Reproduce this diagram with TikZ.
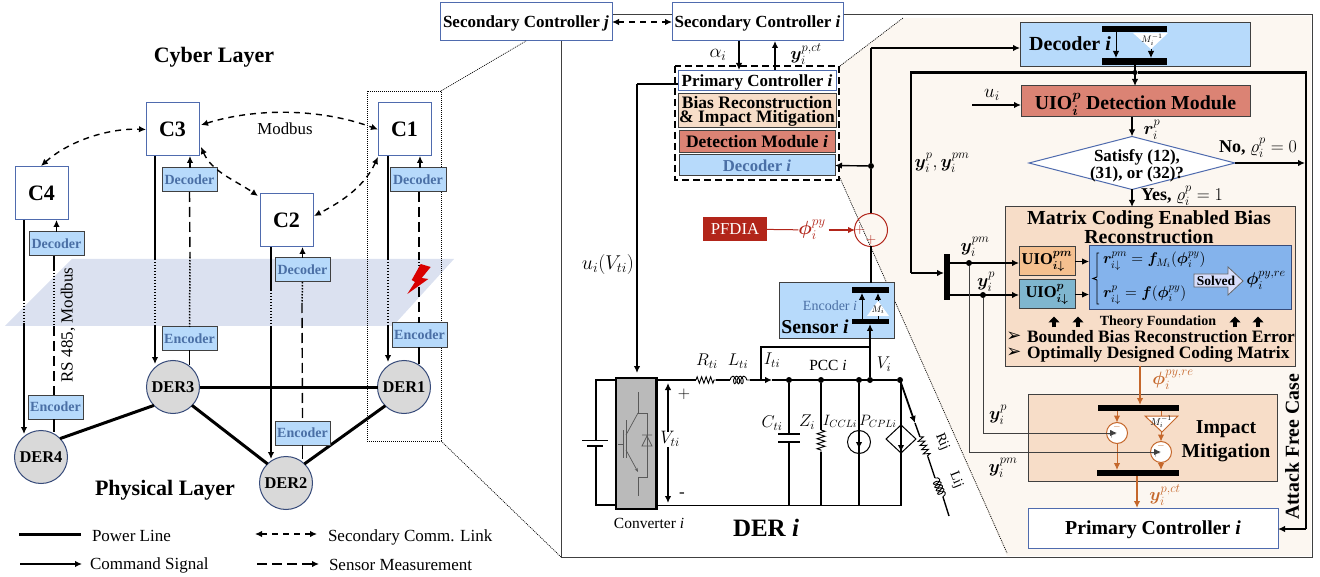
\RequirePackage{fix-cm}
\documentclass[tikz,border=0pt]{standalone}
\usepackage{amsmath,bm}
\usepackage{fontspec}
\setmainfont{Liberation Serif}
\newfontfamily\dejavu{DejaVu Sans}
\usetikzlibrary{arrows.meta,decorations.pathmorphing,shapes.geometric,calc}
\definecolor{bord}{HTML}{4F6BAE}
\definecolor{skyb}{HTML}{B7DAFB}
\definecolor{txtb}{HTML}{4A6FA5}
\definecolor{peach}{HTML}{F7DDC8}
\definecolor{salmon}{HTML}{DB8374}
\definecolor{cream}{HTML}{FCF7F1}
\definecolor{plane}{HTML}{DBE1F0}
\definecolor{pfd}{HTML}{B2251A}
\definecolor{orng}{HTML}{C5672B}
\definecolor{midb}{HTML}{84B3EC}
\definecolor{teal1}{HTML}{7FB6CF}
\definecolor{org1}{HTML}{F5C08F}
\definecolor{dark}{HTML}{404040}
\newcommand\fz[1]{\fontsize{#1}{#1}\selectfont}
\newcommand\bx[7]{\node[#6, minimum width={#4-#2}, minimum height={#5-#3}] (#1) at ({(#2+#4)/2},{(#3+#5)/2}) {#7};}
\newcommand\cmdline[6]{%
 \coordinate (#1a) at (#2,#3); \coordinate (#1b) at (#2,#4); \coordinate (#1c) at (#2,#5); \coordinate (#1d) at (#2,#6);
 \draw[ln] (#1a) -- (#1b); \draw[dotl] (#1b) -- (#1c); \draw[ln,->] (#1c) -- (#1d);}
\tikzset{
 every node/.style={inner sep=0pt,outer sep=0pt},
 >={Latex[length=7pt,width=6.5pt]},
 ln/.style={line width=1.4pt,black},
 thn/.style={line width=1pt,dark},
 hv/.style={line width=2.2pt,black},
 pw/.style={line width=3pt,black},
 dotl/.style={line width=1.5pt,black,dash pattern=on 1.5pt off 1.5pt},
 longd/.style={line width=1.4pt,black,dash pattern=on 10pt off 5pt},
 shortd/.style={line width=1.4pt,black,dash pattern=on 6pt off 5pt},
 fine/.style={line width=.7pt,black,dash pattern=on 1pt off 1pt},
 cbox/.style={draw=bord,line width=1pt,fill=white,font=\fz{22}\bfseries},
 decb/.style={draw=dark,line width=1pt,fill=skyb,text=txtb,font=\fz{14}\bfseries},
 dern/.style={circle,draw=bord!70!black,line width=1pt,fill=black!15,minimum size=53pt,font=\fz{16.4}\bfseries},
 sbox/.style={draw=bord,line width=1pt,fill=white,font=\fz{17}\bfseries,text depth=0pt},
 block/.style={draw=dark,line width=1pt},
 barb/.style={fill=black,draw=none},
 dotn/.style={circle,fill=black,minimum size=6pt},
 lab/.style={font=\fz{15.5}},
 bl/.style={font=\fz{19.8}\bfseries},
 mathl/.style={font=\fz{17}},
 ozw/.style={circle,draw=orng,line width=1pt,fill=white,minimum size=21pt},
 res/.style={decorate,decoration={zigzag,segment length=4.5pt,amplitude=3.2pt}},
 coilp/.style={decorate,decoration={coil,aspect=.55,segment length=3.6pt,amplitude=3.8pt}},
 igbt/.style={line width=.7pt,black!65}
}
\begin{document}
\begin{tikzpicture}[x=1pt,y=-1pt]
\useasboundingbox (0,0) rectangle (1320,577);
% backgrounds
\fill[plane] (72,259) -- (454,259) -- (393,326) -- (5,326) -- cycle;
\fill[cream] (840,66) -- (903,18) -- (1311,16) -- (1311,556) -- (1007,556) -- (840,178) -- cycle;
\draw[line width=1pt,dark] (561,15) rectangle (1312,557);
\draw[fine] (367,91) rectangle (441,441);
\bx{secj}{440}{3}{612}{41}{sbox}{Secondary Controller \textit{j}}
\bx{seci}{672}{3}{843}{41}{sbox}{Secondary Controller \textit{i}}
\draw[fine] (441,91) -- (secj.south);
\draw[fine] (441,441) -- (561,557);
\draw[fine] (840,66) -- (903,18);
\draw[fine] (840,178) -- (1007,553);
% left: titles
\node[font=\fz{22}\bfseries] (cyb) at (214,57) {Cyber Layer};
\node[font=\fz{22}\bfseries] (phy) at (165,490) {Physical Layer};
\node[font=\fz{16.8}] (modb) at (285,129) {Modbus};
\node[font=\fz{17},rotate=90] (rs) at (68,325) {RS 485, Modbus};
% DERs & C boxes
\node[dern] (der4) at (41,457) {DER4};
\node[dern] (der3) at (173,387) {DER3};
\node[dern] (der1) at (404,387) {DER1};
\node[dern] (der2) at (286,483) {DER2};
\bx{c3}{146}{103}{199}{156}{cbox}{C3}
\bx{c1}{378}{103}{431}{156}{cbox}{C1}
\bx{c4}{15}{167}{68}{220}{cbox}{C4}
\bx{c2}{260}{194}{313}{247}{cbox}{C2}
\draw[pw] (der3) -- (der1);
\draw[pw] (der4.44) -- (der3.224);
\draw[pw] (der3.316) -- (der2.134);
\draw[pw] (der2.46) -- (der1.225);
% command lines
\cmdline{ca}{24}{220}{300}{323}{434}
\cmdline{cb}{155}{156}{259}{326}{364}
\cmdline{cc}{271}{247}{290}{326}{459}
\cmdline{cd}{388}{156}{259}{326}{362}
% sensor lines
\bx{dc3}{162}{168}{217}{192}{decb}{Decoder}
\bx{dc1}{390}{168}{446}{192}{decb}{Decoder}
\bx{dc4}{29}{232}{84}{256}{decb}{Decoder}
\bx{dc2}{275}{258}{330}{282}{decb}{Decoder}
\bx{en4}{28}{395}{83}{419}{decb}{Encoder}
\bx{en3}{162}{327}{217}{350}{decb}{Encoder}
\bx{en1}{392}{323}{447}{347}{decb}{Encoder}
\bx{en2}{275}{421}{330}{445}{decb}{Encoder}
\draw[ln,->] (dc3.north -| c3.east) ++(-9,0) coordinate (u3) -- (u3 |- c3.south);
\draw[ln,->] (dc1.north) ++(2,0) coordinate (u1) -- (u1 |- c1.south);
\draw[ln,->] (dc4.north) coordinate (u4) -- (u4 |- c4.south);
\draw[ln,->] (dc2.north) coordinate (u2) -- (u2 |- c2.south);
% C4 sensor
\coordinate (s4a) at (54,270); \coordinate (s4b) at (54,326);
\draw[ln] (dc4.south -| s4a) -- (s4a); \draw[dotl] (s4a) -- (s4b); \draw[longd] (s4b) -- (en4.north -| s4a);
\draw[ln] (en4.south -| s4a) -- ++(0,13);
% C3 sensor
\coordinate (s3a) at (190,257);
\draw[longd] (dc3.south) -- (s3a); \draw[dotl] (s3a) -- (en3.north); \draw[ln] (en3.south) -- ++(0,15);
% C2 sensor
\coordinate (s2a) at (302,303);
\draw[dotl] (dc2.south) -- (s2a); \draw[longd] (s2a) -- (en2.north); \draw[ln] (en2.south) -- ++(0,14);
% C1 sensor
\coordinate (s1a) at (419,259); \coordinate (s1b) at (419,272);
\draw[longd] (dc1.south -| s1a) -- (s1a); \draw[dotl] (s1a) -- (s1b); \draw[longd] (s1b) -- (en1.north -| s1a);
\draw[ln] (en1.south -| s1a) -- ++(0,17);
% lightning
\fill[red!85!black] (420.7,264) -- (430.7,267) -- (421.7,278) -- (428.3,279) -- (407.3,294) -- (415,282) -- (411.7,280) -- cycle;
% secondary links
\draw[shortd,<->] (201,125) .. controls (255,108) and (320,108) .. (c1.west);
\draw[shortd,<->] (41,166) .. controls (70,140) and (110,128) .. (c3.west);
\draw[shortd,<->] (201,147) .. controls (212,172) and (235,180) .. (258,196);
\draw[shortd,<->] (378,157) .. controls (365,185) and (345,200) .. (314,216);
% legend
\coordinate (l1a) at (19,534); \coordinate (l1b) at (81,534);
\coordinate (l2a) at (20,564); \coordinate (l2b) at (82,564);
\coordinate (l3a) at (255,534); \coordinate (l3b) at (317,534);
\coordinate (l4a) at (257,564); \coordinate (l4b) at (319,564);
\draw[pw] (l1a) -- (l1b);
\draw[ln,->] (l2a) -- (l2b);
\draw[shortd,<->] (l3a) -- (l3b);
\draw[longd,->] (l4a) -- (l4b);
\node[font=\fz{17},anchor=west] (t1) at (92,536) {Power Line};
\node[font=\fz{17},anchor=west] (t2) at (90,565) {Command Signal};
\node[font=\fz{17},anchor=west] (t3) at (328,537) {Secondary Comm. Link};
\node[font=\fz{17},anchor=west] (t4) at (329,565) {Sensor Measurement};
% secondary to primary
\draw[shortd,<->] (secj) -- (seci);
\coordinate (al) at (739,70); \coordinate (yc) at (775,70);
\draw[ln,->] (seci.south -| al) -- (al);
\draw[ln,->] (yc) -- (seci.south -| yc);
\node[font=\fz{19}] (alab) at (718,55) {$\alpha_i$};
\node[font=\fz{18}] (yclab) at (806,54) {$\bm{y}_i^{p,ct}$};
\draw[line width=1.5pt,dash pattern=on 7pt off 4pt] (675,66) rectangle (839,180);
\bx{pri}{678}{71}{836}{91}{sbox}{Primary Controller \textit{i}}
\bx{bias}{678}{94}{836}{128}{block,fill=peach,align=center,font=\fontsize{17.5}{14}\selectfont\bfseries}{Bias Reconstruction\\\& Impact Mitigation}
\bx{det}{679}{131}{835}{153}{block,fill=salmon,font=\fz{17.5}\bfseries}{Detection Module \textit{i}}
\bx{dec}{679}{155}{835}{176}{block,fill=skyb,text=txtb,font=\fz{16.7}\bfseries}{Decoder \textit{i}}
% PFDIA
\bx{pf}{703}{217}{767}{241}{fill=pfd,text=white,font=\fz{16.7}}{PFDIA}
\node[circle,draw=pfd,line width=1pt,minimum size=33pt] (sum) at (871,230) {};
\node[text=pfd,font=\fz{19}] (ph) at (812,230) {$\bm{\phi}_i^{py}$};
\draw[line width=1pt,pfd] (pf) -- (ph);
\draw[line width=1.2pt,pfd,->] (ph.east) ++(3,0) -- (855,230);
\node[text=pfd,font=\fz{14}] (p1) at (860,230) {$+$};
\node[text=pfd,font=\fz{14}] (p2) at (871,240) {$+$};
% sensor
\bx{sens}{779}{283}{894}{339}{block,fill=skyb}{}
\bx{sb1}{852}{287}{889}{293}{barb}{}
\bx{sb2}{852}{319}{889}{324}{barb}{}
\fill[white] (878,301) -- (889,316) -- (867,316) -- cycle;
\node[font=\fz{9.5}] (mi) at (878,310) {$M_i$};
\coordinate (sa) at (862,319); \coordinate (sc) at (878,301);
\draw[line width=.9pt,->] (sa) -- (sa |- sb1.south);
\draw[line width=.9pt,->] (sc) -- (sc |- sb1.south);
\draw[line width=.9pt] (sb2.north -| sc) -- (878,316);
\node[text=txtb,font=\fz{14}] (enc) at (830,306) {Encoder \textit{i}};
\node[font=\fz{19.7}\bfseries] (snl) at (815,327) {Sensor \textit{i}};
% main feedback
\coordinate (jt) at (871,48); \node[dotn] (jd) at (871,166) {};
\draw[ln] (sens.north -| sum) -- (sum);
\draw[ln] (sum) -- (jd);
\draw[ln] (jd) -- (jt);
\draw[ln,->] (jd) -- (dec.east);
% u line
\coordinate (uc) at (637,84); \coordinate (uv) at (637,373);
\node[font=\fz{20}] (ulab) at (608,265) {$u_i(V_{ti})$};
% converter
\bx{conv}{616}{378}{657}{509}{draw=black,line width=1.5pt,fill=black!27}{}
\draw[line width=3pt] (656,378) -- (656,509);
\draw[line width=2.5pt] (616,378) -- (657,378);
\draw[ln] (pri.west |- uc) -- (uc);
\draw[ln,->] (uc) -- (uv);
\node[font=\fz{15.5}] (cvl) at (649,523) {Converter \textit{i}};
\node[font=\fz{25}\bfseries] (derl) at (766,528) {DER \textit{i}};
% igbt
\draw[igbt] (638,392) -- (638,413) -- (647,413) -- (647,477) -- (638,477) -- (638,496);
\draw[igbt] (618,444) -- (623,444) (623,430) -- (623,458) (626,420) -- (626,458);
\draw[igbt] (626,435) -- (638,413);
\draw[igbt,-{Stealth[length=4pt,width=3pt]}] (626,450) -- (638,472);
\draw[igbt] (642,446) -- (652,446) -- (647,436) -- cycle (642,435) -- (652,435);
% battery
\coordinate (batTL) at (596,380); \coordinate (batBL) at (596,505);
\draw[ln] (conv.west |- batTL) -- (batTL) -- (596,440);
\draw[ln] (596,446) -- (batBL) -- (conv.west |- batBL);
\draw[ln] (582,440.5) -- (608,440.5) (587,446) -- (603,446);
% rails
\coordinate (rr0) at (657,380); \coordinate (r1a) at (696,380); \coordinate (r1b) at (716,380);
\coordinate (l1x) at (730,380); \coordinate (l1y) at (750,380); \coordinate (i0) at (772,380);
\node[dotn] (n1) at (789,380) {}; \node[dotn] (n2) at (821,380) {}; \node[dotn] (n3) at (859,380) {};
\node[dotn] (n4) at (870,380) {}; \node[dotn] (n5) at (900,380) {};
\draw[ln] (rr0) -- (r1a); \draw[line width=.9pt,res] (r1a) -- (r1b); \draw[ln] (r1b) -- (l1x);
\draw[line width=.9pt,coilp] (l1x) -- (l1y); \draw[ln,->] (l1y) -- (i0);
\draw[ln] (i0) -- (n5);
\coordinate (bb0) at (657,505.7); \coordinate (bb1) at (901,505.7);
\draw[ln] (bb0) -- (bb1) -- (901,380);
\draw[ln,<->] (668,383) -- (668,503);
\node[font=\fz{17}] (pls) at (684,394) {$+$};
\node[font=\fz{17}] (mns) at (682,495) {-};
\node[font=\fz{18},fill=white] (vti) at (670,439) {$V_{ti}$};
\node[font=\fz{17}] (rti) at (707,361) {$R_{ti}$};
\node[font=\fz{17}] (lti) at (738,361) {$L_{ti}$};
\node[font=\fz{17}] (iti) at (772,360) {$I_{ti}$};
\node[lab] (pcc) at (828,365) {PCC \textit{i}};
\node[font=\fz{17}] (vi) at (884,364) {$V_i$};
% sensor tap
\coordinate (tap) at (761,380); \coordinate (tap2) at (761,347); \coordinate (tap3) at (870,347);
\draw[line width=1.8pt] (tap) -- (tap2) -- (tap3);
\draw[ln,->] (n4) -- (sb2.south -| n4);
% shunts
\draw[ln] (n1) -- (789,434) (789,442) -- (789,505.7);
\draw[ln] (778,434) -- (800,434) (778,442) -- (800,442);
\draw[ln] (n2) -- (821,430); \draw[line width=.9pt,decorate,decoration={zigzag,segment length=5pt,amplitude=4pt}] (821,430) -- (821,452); \draw[ln] (821,452) -- (821,505.7);
\node[circle,draw=black,line width=1pt,minimum size=23pt] (isrc) at (859,442) {};
\draw[ln] (n3) -- (859,505.7);
\draw[ln,->] (859,430) -- (859,449);
\node[diamond,draw=black,line width=1pt,minimum width=30pt,minimum height=28pt] (dsrc) at (901,439) {};
\draw[ln,->] (901,425) -- (901,452);
\node[font=\fz{17}] (cti) at (772,423) {$C_{ti}$};
\node[font=\fz{17}] (zi) at (807,422) {$Z_i$};
\node[font=\fz{15}] (icc) at (840,421) {$I_{CCLi}$};
\node[font=\fz{15}] (pcp) at (878,421) {$P_{CPLi}$};
% Rij Lij
\coordinate (ra) at (920,437); \coordinate (rb) at (928,457); \coordinate (la) at (935,478); \coordinate (lb) at (943,497); \coordinate (le) at (949,516);
\draw[line width=1.8pt,->] (n5) -- (915,423);
\draw[ln] (915,423) -- (ra);
\draw[line width=.9pt,res] (ra) -- (rb); \draw[ln] (rb) -- (la);
\draw[line width=.9pt,coilp] (la) -- (lb); \draw[ln] (lb) -- (le);
\node[font=\fz{14},rotate=-68] (rij) at (942,442) {Rij};
\node[font=\fz{14},rotate=-68] (lij) at (956,480) {Lij};
% right side
\bx{dbig}{1020}{23}{1250}{67}{block,fill=skyb}{}
\node[font=\fz{20}\bfseries] (dbt) at (1070,44) {Decoder \textit{i}};
\bx{db1}{1102}{26}{1167}{32}{barb}{}
\bx{db2}{1102}{58}{1167}{65}{barb}{}
\fill[white] (1133,33) -- (1168,33) -- (1151,49) -- cycle;
\node[font=\fz{9.5}] (minv) at (1152,40) {$M_i^{-1}$};
\coordinate (da) at (1116,32); \coordinate (dc) at (1151,49);
\draw[line width=.9pt,->] (da) -- (da |- db2.north);
\draw[line width=.9pt,->] (dc) -- (dc |- db2.north);
\draw[ln,->] (jt) -- (dbig.west |- jt);
\bx{uio}{1021}{86}{1250}{117}{block,fill=salmon,font=\fz{19.8}\bfseries,text depth=0pt}{UIO$_{\bm{i}}^{\bm{p}}$ Detection Module}
\node[dotn,minimum size=5pt] (jup) at (1135,72.5) {};
\draw[ln,->] (db2.south -| jup) -- (uio.north -| jup);
\coordinate (fbL) at (911,72.5); \coordinate (fbLb) at (911,273); \coordinate (fbR) at (1306,72.5); \coordinate (fbRb) at (1306,529);
\node[diamond,aspect=3.8,draw=bord,line width=1pt,fill=white,minimum width=206pt,minimum height=53pt] (sat) at (1132,163) {};
\node[font=\fontsize{17}{15}\selectfont\bfseries,align=center] (satt) at (1137,166) {Satisfy (12),\\(31), or (32)?};
\coordinate (uin) at (972,105);
\draw[ln,->] (uin) -- (uio.west |- uin);
\node[font=\fz{19}] (uil) at (992,95) {$u_i$};
\draw[ln,->] (uio.south -| sat) -- (sat.north);
\node[font=\fz{18}] (ril) at (1152,130) {$\bm{r}_i^p$};
\coordinate (noend) at (1305,163);
\draw[ln,->] (sat.east) -- (noend);
\node[font=\fz{18}] (nol) at (1258,148) {\textbf{No,} $\varrho_i^p=0$};
\node[font=\fz{18}] (yyl) at (942,163) {$\bm{y}_i^p,\bm{y}_i^{pm}$};
\bx{mat}{1005}{207}{1295}{366}{block,fill=peach}{}
\draw[ln,->] (sat.south) -- (mat.north -| sat);
\node[font=\fz{18}] (yesl) at (1182,196) {\textbf{Yes,} $\varrho_i^p=1$};
\node[font=\fontsize{19.9}{17.5}\selectfont\bfseries,align=center] (matt) at (1149,227) {Matrix Coding Enabled Bias\\Reconstruction};
\bx{vbar}{944}{254}{950}{300}{barb}{}
\draw[hv] (jup) -- (fbL) -- (fbLb);
\draw[hv,->] (fbLb) -- (vbar.west |- fbLb);
\draw[hv] (jup) -- (fbR) -- (fbRb);
\bx{upm}{1019}{247}{1075}{276}{draw=dark,line width=1pt,fill=org1,font=\fz{16.5}\bfseries}{UIO$_{\bm{i\downarrow}}^{\bm{pm}}$}
\bx{up}{1019}{280}{1075}{309}{draw=dark,line width=1pt,fill=teal1,font=\fz{16.5}\bfseries}{UIO$_{\bm{i\downarrow}}^{\bm{p}}$}
\bx{blu}{1089}{246}{1291}{310}{draw=bord!70!black,line width=1pt,fill=midb}{}
\node[dotn] (dy1) at (969,263) {}; \node[dotn] (dy2) at (983,295) {};
\draw[ln,->] (vbar.east |- dy1) -- (upm.west |- dy1);
\draw[ln,->] (vbar.east |- dy2) -- (up.west |- dy2);
\draw[line width=.9pt,->] (upm.east) -- (blu.west |- upm);
\draw[line width=.9pt,->] (up.east) -- (blu.west |- up);
\node[font=\fz{18}] (yl1) at (975,247) {$\bm{y}_i^{pm}$};
\node[font=\fz{18}] (yl2) at (986,282) {$\bm{y}_i^{p}$};
\draw[line width=.9pt] (1099,253) -- (1097,253) -- (1097,277) -- (1093,278.5) -- (1097,280) -- (1097,304) -- (1099,304);
\node[font=\fz{15.5},anchor=west] (eq1) at (1103,261) {$\bm{r}_{i\downarrow}^{pm}=\bm{f}_{M_i}(\bm{\phi}_i^{py})$};
\node[font=\fz{15.5},anchor=west] (eq2) at (1103,295) {$\bm{r}_{i\downarrow}^{p}=\bm{f}(\bm{\phi}_i^{py})$};
\draw[line width=.8pt,black!60,fill=blue!10!white!85!midb] (1194,274) -- (1228,274) -- (1228,267) -- (1243,281) -- (1228,295) -- (1228,287) -- (1194,287) -- cycle;
\node[font=\fz{13.5}\bfseries] (solv) at (1216,281) {Solved};
\node[font=\fz{17}] (phr) at (1266,280) {$\bm{\phi}_i^{py,re}$};
\node[font=\fz{14}\bfseries] (theo) at (1158,322) {Theory Foundation};
\foreach \ax in {1054,1078,1235,1258}{
  \draw[line width=4pt,-{Triangle[length=6pt,width=11pt]}] (\ax,327.5) -- (\ax,316.5);
}
\node[font=\dejavu\fz{18}] (b1) at (1014,337) {➢};
\node[font=\dejavu\fz{18}] (b2) at (1014,353) {➢};
\node[font=\fz{17.4}\bfseries,anchor=west] (bt1) at (1027,337) {Bounded Bias Reconstruction Error};
\node[font=\fz{17.4}\bfseries,anchor=west] (bt2) at (1027,354) {Optimally Designed Coding Matrix};
% impact
\bx{imp}{1028}{394}{1277}{481}{block,fill=peach}{}
\node[font=\fontsize{19.7}{24}\selectfont\bfseries,align=center] (impt) at (1226,441) {Impact\\Mitigation};
\bx{ib1}{1098}{405}{1179}{411}{barb}{}
\bx{ib2}{1097}{470}{1179}{476}{barb}{}
\coordinate (phin) at (1140,366);
\draw[line width=1.8pt,orng,->] (mat.south -| phin) -- (ib1.north -| phin);
\node[text=orng,font=\fz{18}] (phl2) at (1173,380) {$\bm{\phi}_i^{py,re}$};
\node[ozw] (o1) at (1117,433) {};
\node[ozw] (o2) at (1161,452) {};
\draw[line width=1pt,orng,fill=white] (1145,416) -- (1178,416) -- (1162,432) -- cycle;
\node[font=\fz{10}] (mi2) at (1161,422) {$M_i^{-1}$};
\draw[line width=1pt,orng,->] (ib1.south -| o1) -- (o1.north);
\draw[line width=1pt,orng] (ib1.south -| o2) -- (1161,416);
\draw[line width=1pt,orng,->] (1161,432) -- (o2.north);
\draw[line width=1pt,orng,->] (o1.south) -- (ib2.north -| o1);
\draw[line width=1pt,orng,->] (o2.south) -- (ib2.north -| o2);
\node[font=\fz{9.5},text=orng] (om1) at (1117,427) {$-$};
\node[font=\fz{9.5},text=orng] (om2) at (1161,446) {$-$};
\coordinate (vy1) at (969,452); \coordinate (vy2) at (983,433);
\draw[thn] (dy1) -- (vy1);
\draw[thn] (dy2) -- (vy2);
\draw[thn,->] (vy1) -- (o2.center);
\draw[thn,->] (vy2) -- (o1.center);
\node[font=\fz{12},text=dark] (op1) at (1112,434) {$+$};
\node[font=\fz{12},text=dark] (op2) at (1156,453) {$+$};
\node[font=\fz{18}] (yl3) at (998,415) {$\bm{y}_i^{p}$};
\node[font=\fz{18}] (yl4) at (1003,468) {$\bm{y}_i^{pm}$};
\bx{prib}{1028}{508}{1278}{548}{draw=bord,line width=1pt,fill=white,font=\fz{19.8}\bfseries,text depth=0pt}{Primary Controller \textit{i}}
\coordinate (oa) at (1137,476);
\draw[line width=1.8pt,orng,->] (oa) -- (prib.north -| oa);
\node[text=orng,font=\fz{18}] (ycl2) at (1165,495) {$\bm{y}_i^{p,ct}$};
\draw[hv,->] (fbRb) -- (prib.east |- fbRb);
\node[bl,rotate=90] (afc) at (1292,447) {Attack Free Case};
\end{tikzpicture}
\end{document}
